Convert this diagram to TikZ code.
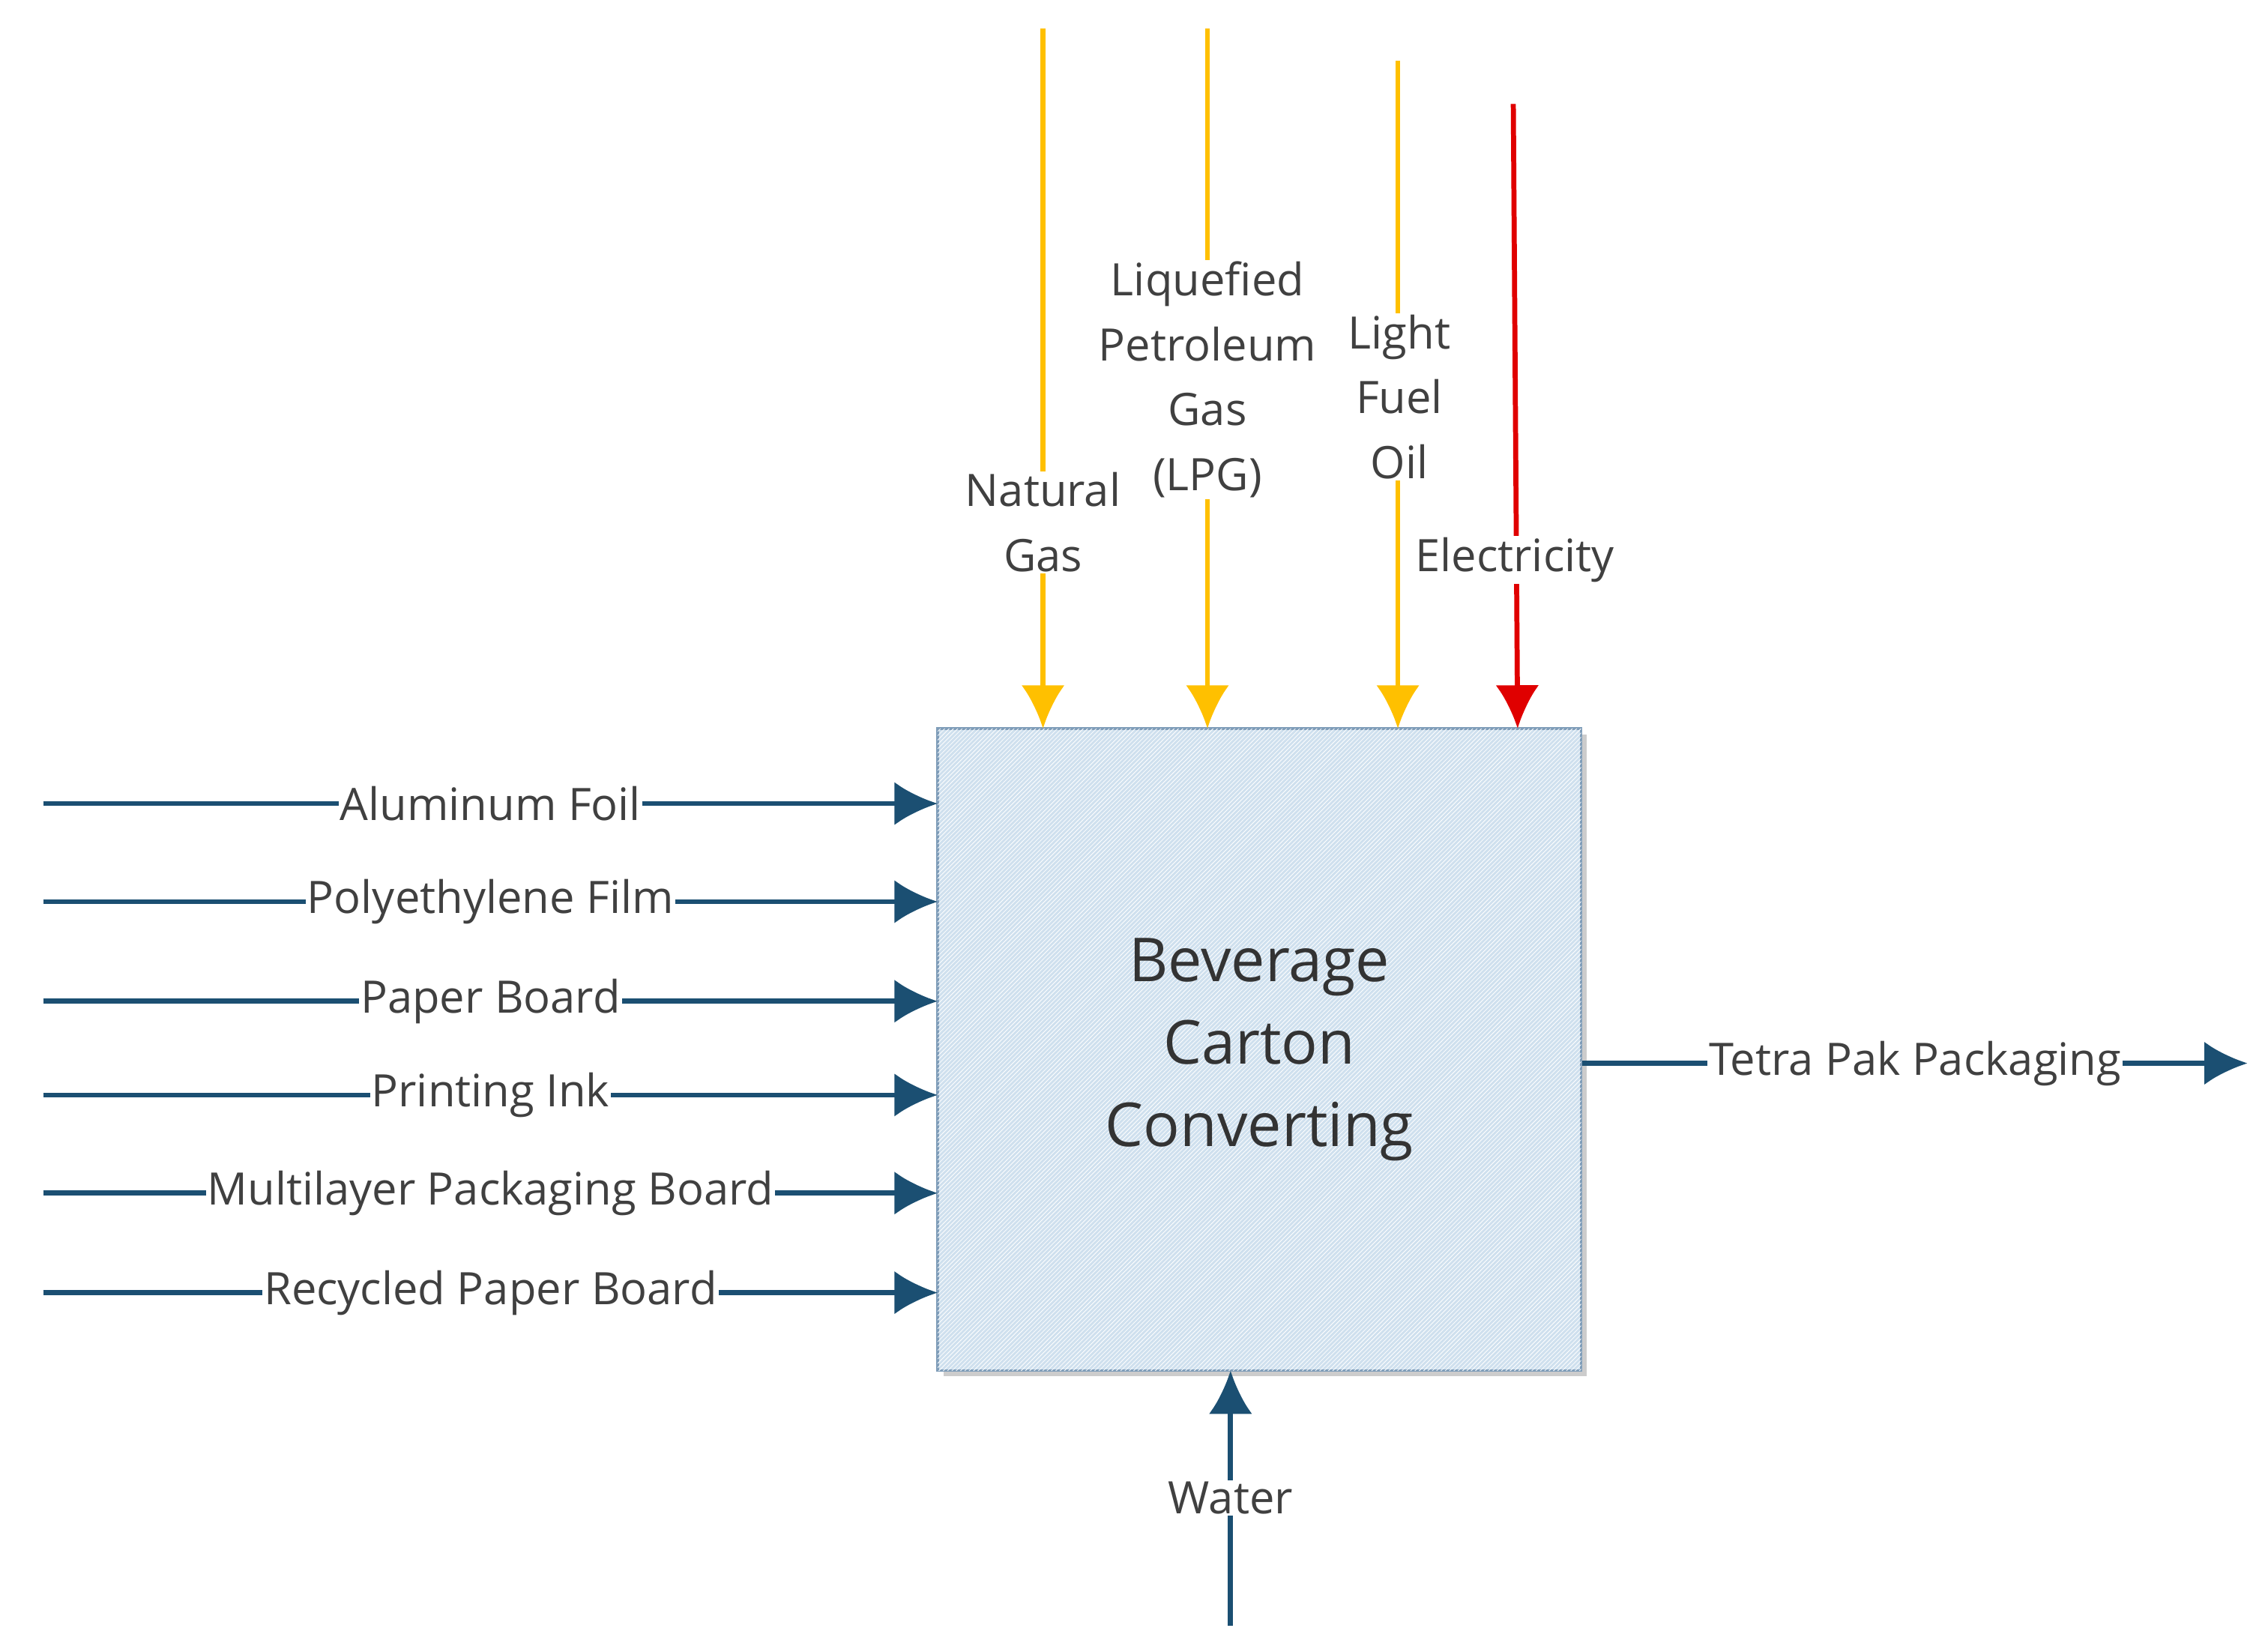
\documentclass[tikz,border=0pt]{standalone}
\usepackage{fontspec}
\setmainfont{Open Sans}
\usetikzlibrary{arrows.meta,patterns,shadows}
\definecolor{navy}{HTML}{1B4F72}
\definecolor{gold}{HTML}{FFC000}
\definecolor{redd}{HTML}{E00000}
\definecolor{boxfill}{HTML}{CFE0EE}
\definecolor{boxline}{HTML}{7F9DB9}
\begin{document}
\begin{tikzpicture}[x=1pt,y=-1pt,
  flow/.style={line width=3.5pt,-{Latex[length=30pt,width=30pt]}},
  lbl/.style={fill=white,inner sep=1pt,font=\fontsize{31}{45}\selectfont,text=black!75,align=center}]
\useasboundingbox (0,0) rectangle (1568,1145);
\node[draw=boxline,line width=2pt,fill=boxfill,minimum width=446pt,minimum height=445pt,
  drop shadow={shadow xshift=4pt,shadow yshift=-4pt,opacity=0.4},
  postaction={pattern=north east lines,pattern color=white},
  font=\fontsize{42}{57}\selectfont,text=black!80,align=center] (box) at (873,727.5) {Beverage\\Carton\\Converting};
% left inputs
\foreach \y/\t/\n in {557/Aluminum Foil/a,625/Polyethylene Film/b,694/Paper Board/c,759/Printing Ink/d,827/Multilayer Packaging Board/e,896/Recycled Paper Board/f}{
  \coordinate (s\n) at (30,\y);
  \coordinate (e\n) at (650,\y);
  \draw[flow,navy] (s\n) -- (e\n) node[lbl,pos=0.5] {\t};
}
% top inputs
\coordinate (sng) at (723,20); \coordinate (eng) at (723,505);
\draw[flow,gold] (sng) -- (eng);
\coordinate (slp) at (837,20); \coordinate (elp) at (837,505);
\draw[flow,gold] (slp) -- (elp);
\node[lbl] at (837,263) {Liquefied\\Petroleum\\Gas\\(LPG)};
\node[lbl] at (723,362) {Natural\\Gas};
\coordinate (slf) at (969,42); \coordinate (elf) at (969,505);
\draw[flow,gold] (slf) -- (elf);
\node[lbl] at (970,275) {Light\\Fuel\\Oil};
\coordinate (sel) at (1049,72); \coordinate (eel) at (1052,505);
\draw[flow,redd] (sel) -- (eel);
\node[lbl] at (1050,388) {Electricity};
% output
\coordinate (out) at (1558,737);
\draw[flow,navy] (box.east |- out) -- (out) node[lbl,pos=0.5] {Tetra Pak Packaging};
% water
\coordinate (sw) at (853,1127);
\draw[flow,navy] (sw) -- (853,950) node[lbl,pos=0.5] {Water};
\end{tikzpicture}
\end{document}
